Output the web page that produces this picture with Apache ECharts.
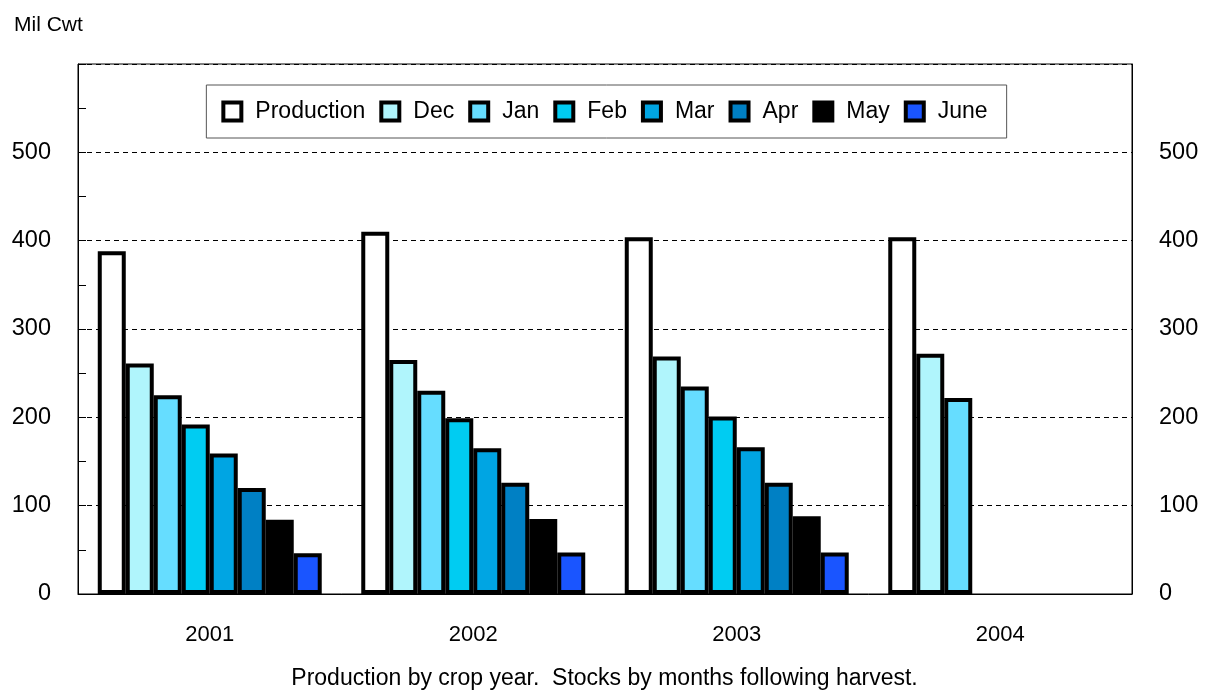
<!DOCTYPE html>
<html>
<head>
<meta charset="utf-8">
<script src="https://cdn.jsdelivr.net/npm/echarts@6/dist/echarts.min.js"></script>
<style>
  html, body { margin: 0; padding: 0; background: #fff; }
  #chart { width: 1209px; height: 692px; }
</style>
</head>
<body>
<div id="chart"></div>
<script>
// crop years
const years = ['2001', '2002', '2003', '2004']
const seriesNames = ['Production', 'Dec', 'Jan', 'Feb', 'Mar', 'Apr', 'May', 'June']
// Mil Cwt
const production = [388, 410, 404, 404]
const dec = [261, 265, 269, 272]
const jan = [225, 230, 235, 222]
const feb = [192, 199, 201, null]
const mar = [159, 165, 166, null]
const apr = [120, 126, 126, null]
const may = [84, 85, 88, null]
const june = [46, 47, 47, null]
const yTicks = [0, 100, 200, 300, 400, 500]

const colors = ['#ffffff', '#b0f5fc', '#66ddff', '#00ccf2', '#00a5e3', '#0080c4', '#000000', '#1a55ff']
const allData = [production, dec, jan, feb, mar, apr, may, june]
const font = 'Liberation Sans, Arial, sans-serif'

const chart = echarts.init(document.getElementById('chart'))

const tickLabel = v => (yTicks.includes(v) ? String(v) : '')

chart.setOption({
  animation: false,
  textStyle: { fontFamily: font },
  title: [
    { text: 'Mil Cwt', left: 9, top: 10, textStyle: { fontSize: 21, fontWeight: 'normal', color: '#000', fontFamily: font } },
    { text: 'Production by crop year.  Stocks by months following harvest.', left: 'center', top: 662,
      textStyle: { fontSize: 23, fontWeight: 'normal', color: '#000', fontFamily: font } },
  ],
  legend: {
    data: seriesNames,
    left: 'center',
    top: 85,
    padding: [15, 19, 15, 15],
    borderColor: '#555',
    borderWidth: 1,
    itemWidth: 18,
    itemHeight: 18,
    itemGap: 14,
    icon: 'rect',
    itemStyle: { borderColor: '#000', borderWidth: 4 },
    textStyle: { fontSize: 23, color: '#000', fontFamily: font, padding: [0, 0, 0, 9] },
  },
  grid: { left: 78, right: 77, top: 64, bottom: 98, show: true, borderColor: '#000', borderWidth: 1 },
  xAxis: {
    type: 'category',
    data: years,
    axisLine: { lineStyle: { color: '#000', width: 1 } },
    axisTick: { show: false },
    axisLabel: { color: '#000', fontSize: 22, margin: 30, fontFamily: font },
  },
  yAxis: [
    {
      type: 'value', min: 0, max: 600, interval: 100, position: 'left',
      axisLine: { show: true, lineStyle: { color: '#000' } },
      axisTick: { show: true, inside: true, length: 8, lineStyle: { color: '#000' } },
      minorTick: { show: true, splitNumber: 2, length: 8, lineStyle: { color: '#000' } },
      axisLabel: { color: '#000', fontSize: 23.5, margin: 27, fontFamily: font, formatter: tickLabel },
      splitLine: { show: true, lineStyle: { color: '#000', type: [5, 4], width: 1 } },
    },
    {
      type: 'value', min: 0, max: 600, interval: 100, position: 'right',
      axisLine: { show: true, lineStyle: { color: '#000' } },
      axisTick: { show: false },
      axisLabel: { color: '#000', fontSize: 23.5, margin: 27, fontFamily: font, formatter: tickLabel },
      splitLine: { show: false },
    },
  ],
  series: seriesNames.map((name, i) => ({
    name,
    type: 'bar',
    data: allData[i],
    barGap: '0%',
    barCategoryGap: '15%',
    itemStyle: { color: colors[i], borderColor: '#000', borderWidth: 4 },
  })),
})
</script>
</body>
</html>
